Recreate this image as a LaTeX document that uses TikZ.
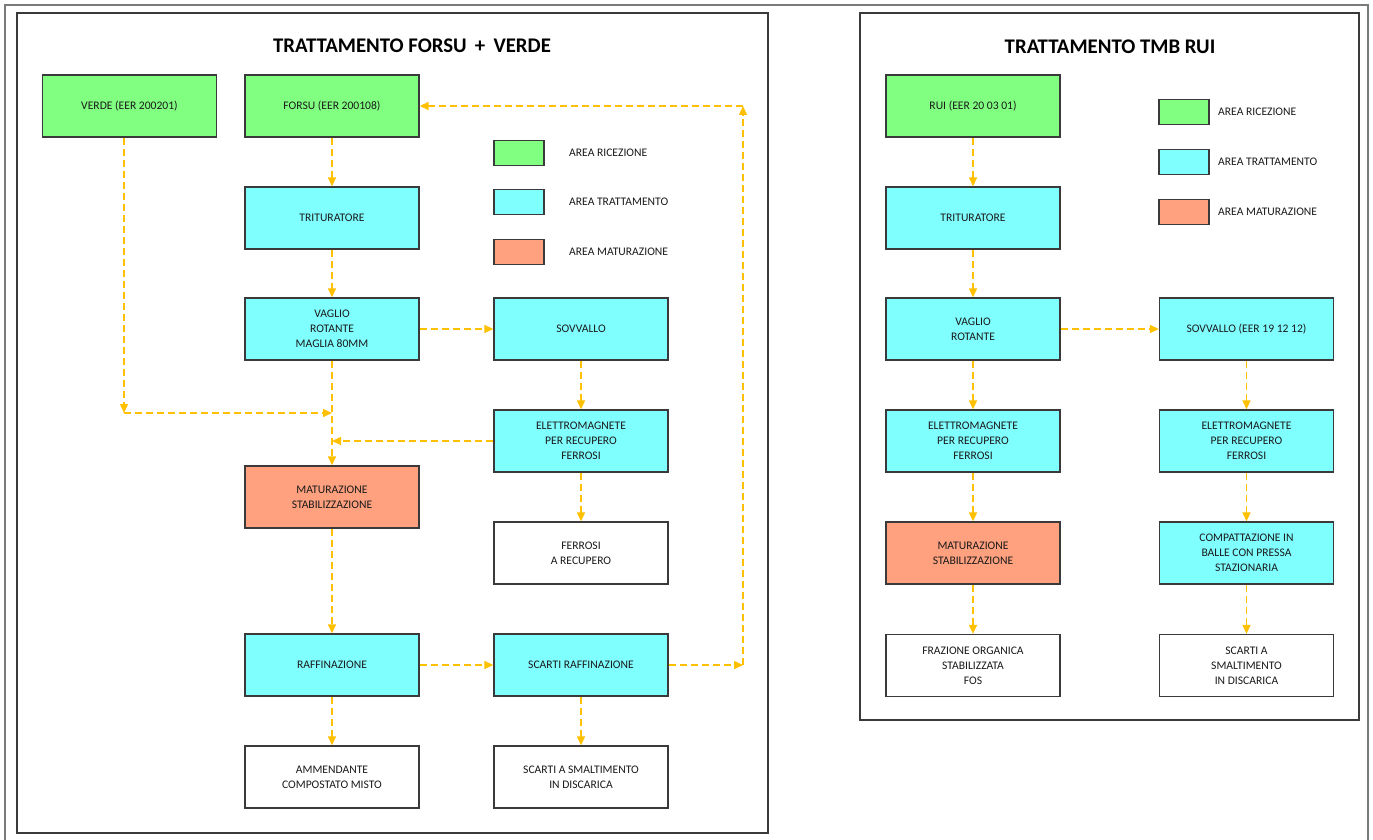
\documentclass[tikz,border=0pt]{standalone}
\usepackage{fontspec}
\setmainfont{Carlito}
\usetikzlibrary{arrows.meta}
\definecolor{recv}{HTML}{80FF80}
\definecolor{tratt}{HTML}{80FFFF}
\definecolor{matur}{HTML}{FFA07F}
\definecolor{flowc}{HTML}{FFC000}
\definecolor{edge}{HTML}{3A3A3A}
\definecolor{txt}{HTML}{1A1A1A}
\definecolor{outerc}{HTML}{7A7A7A}
\tikzset{
  box/.style={draw=edge, line width=1.3pt, minimum width=174pt, minimum height=62pt,
    inner sep=2pt, align=center, text=txt, font=\fontsize{11.6}{15}\selectfont},
  rbox/.style={box, fill=recv},
  tbox/.style={box, fill=tratt},
  mbox/.style={box, fill=matur},
  wbox/.style={box, fill=white},
  legbox/.style={draw=edge, line width=1.3pt, minimum width=50pt, minimum height=25pt, inner sep=0pt},
  leglabel/.style={anchor=west, text=txt, font=\fontsize{11.6}{15}\selectfont, inner sep=0pt},
  ttl/.style={text=black, font=\fontsize{20.8}{24}\selectfont\bfseries},
  panel/.style={draw=edge, line width=1.3pt},
  flow/.style={draw=flowc, line width=1.4pt, dash pattern=on 7pt off 4pt,
    -{Triangle[length=9pt,width=8pt,fill=flowc]}}
}
\begin{document}
\begin{tikzpicture}[x=1pt,y=-1pt]
\useasboundingbox (0,0) rectangle (1373,840);
\fill[white] (0,0) rectangle (1373,840);
% outer frame
\draw[outerc, line width=1.5pt] (5,840) -- (5,5) -- (1368,5) -- (1368,840);
% panels
\draw[panel] (17,13) rectangle (768,833);
\draw[panel] (860,13) rectangle (1359,720);

% ---------- LEFT PANEL ----------
\node[ttl] (t1) at (412,46) {TRATTAMENTO FORSU \,+\, VERDE};
\node[rbox] (verde) at (129.5,106) {VERDE (EER 200201)};
\node[rbox] (forsu) at (332,106) {FORSU (EER 200108)};
\node[tbox] (trit1) at (332,218) {TRITURATORE};
\node[tbox] (vag1) at (332,329) {VAGLIO\\ROTANTE\\MAGLIA 80MM};
\node[tbox] (sov1) at (581,329) {SOVVALLO};
\node[tbox] (ele1) at (581,441) {ELETTROMAGNETE\\PER RECUPERO\\FERROSI};
\node[mbox] (mat1) at (332,497) {MATURAZIONE\\STABILIZZAZIONE};
\node[wbox] (fer1) at (581,553) {FERROSI\\A RECUPERO};
\node[tbox] (raf) at (332,665) {RAFFINAZIONE};
\node[tbox] (scr) at (581,665) {SCARTI RAFFINAZIONE};
\node[wbox] (amm) at (332,777) {AMMENDANTE\\COMPOSTATO MISTO};
\node[wbox] (sm1) at (581,777) {SCARTI A SMALTIMENTO\\IN DISCARICA};

\node[legbox, fill=recv] (lg1) at (519,153) {};
\node[legbox, fill=tratt] (lg2) at (519,202) {};
\node[legbox, fill=matur] (lg3) at (519,252) {};
\node[leglabel] (ll1) at (569,153) {AREA RICEZIONE};
\node[leglabel] (ll2) at (569,202) {AREA TRATTAMENTO};
\node[leglabel] (ll3) at (569,252) {AREA MATURAZIONE};

\coordinate (vc) at (124,413);
\coordinate (j1) at (332,413);
\coordinate (j2) at (332,441);
\coordinate (lr) at (743,665);
\coordinate (ur) at (743,106);

\draw[flow] (forsu) -- (trit1);
\draw[flow] (trit1) -- (vag1);
\draw[flow] (vag1) -- (sov1);
\draw[flow] (vag1) -- (mat1);
\draw[flow] (verde.south -| vc) -- (vc);
\draw[flow] (vc) -- (j1);
\draw[flow] (ele1) -- (j2);
\draw[flow] (sov1) -- (ele1);
\draw[flow] (ele1) -- (fer1);
\draw[flow] (mat1) -- (raf);
\draw[flow] (raf) -- (scr);
\draw[flow] (scr) -- (sm1);
\draw[flow] (raf) -- (amm);
\draw[flow] (scr) -- (lr);
\draw[flow] (lr) -- (ur);
\draw[flow] (ur) -- (forsu);

% ---------- RIGHT PANEL ----------
\node[ttl] (t2) at (1110,47) {TRATTAMENTO TMB RUI};
\node[rbox] (rui) at (973,106) {RUI (EER 20 03 01)};
\node[tbox] (trit2) at (973,218) {TRITURATORE};
\node[tbox] (vag2) at (973,329) {VAGLIO\\ROTANTE};
\node[tbox] (sov2) at (1246.5,329) {SOVVALLO (EER 19 12 12)};
\node[tbox] (ele2) at (973,441) {ELETTROMAGNETE\\PER RECUPERO\\FERROSI};
\node[tbox] (ele3) at (1246.5,441) {ELETTROMAGNETE\\PER RECUPERO\\FERROSI};
\node[mbox] (mat2) at (973,553) {MATURAZIONE\\STABILIZZAZIONE};
\node[tbox] (comp) at (1246.5,553) {COMPATTAZIONE IN\\BALLE CON PRESSA\\STAZIONARIA};
\node[wbox] (fos) at (973,665.5) {FRAZIONE ORGANICA\\STABILIZZATA\\FOS};
\node[wbox] (sm2) at (1246.5,665.5) {SCARTI A\\SMALTIMENTO\\IN DISCARICA};

\node[legbox, fill=recv] (lg4) at (1184,112) {};
\node[legbox, fill=tratt] (lg5) at (1184,162) {};
\node[legbox, fill=matur] (lg6) at (1184,212) {};
\node[leglabel] (ll4) at (1218,112) {AREA RICEZIONE};
\node[leglabel] (ll5) at (1218,162) {AREA TRATTAMENTO};
\node[leglabel] (ll6) at (1218,212) {AREA MATURAZIONE};

\draw[flow] (rui) -- (trit2);
\draw[flow] (trit2) -- (vag2);
\draw[flow] (vag2) -- (ele2);
\draw[flow] (ele2) -- (mat2);
\draw[flow] (mat2) -- (fos);
\draw[flow] (vag2) -- (sov2);
\draw[flow] (sov2) -- (ele3);
\draw[flow] (ele3) -- (comp);
\draw[flow] (comp) -- (sm2);
\end{tikzpicture}
\end{document}
